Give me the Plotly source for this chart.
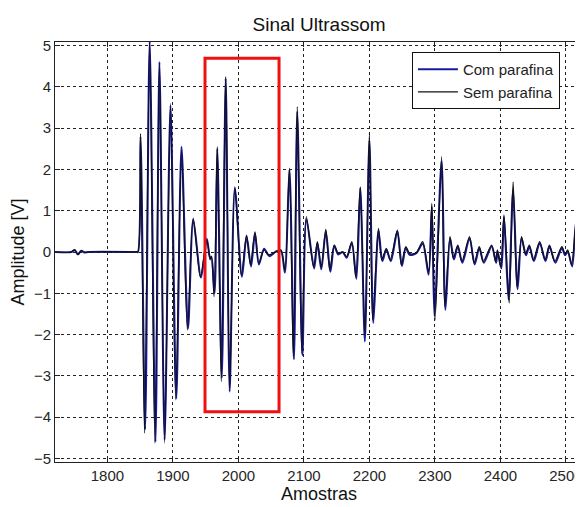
import plotly.graph_objects as go

# --- data (local extrema) ---
sem_x = [1720, 1745, 1750, 1755, 1760, 1765, 1771, 1844, 1846.6, 1850.6, 1856.6, 1864.5, 1872.4,
         1879.4, 1887.3, 1896.3, 1904.2, 1913.1, 1922.1, 1931, 1941.9, 1951.8, 1956.8, 1958.8,
         1962.8, 1967.7, 1973.7, 1980.6, 1986.6, 1994.5, 2004.4, 2012.4, 2018.3, 2025.3, 2031.2,
         2039.2, 2046.1, 2058, 2065, 2070.9, 2077.9, 2083.8, 2089.8, 2096.7, 2103.7, 2114.6,
         2120.5, 2126.5, 2133.4, 2139.4, 2146.3, 2152.3, 2159.2, 2165.2, 2173.1, 2179.1, 2186,
         2193, 2199.9, 2204.9, 2213.8, 2218.8, 2225.7, 2231.7, 2242.6, 2248.6, 2255.5, 2261.5,
         2271.4, 2281.3, 2290.3, 2295.2, 2300.2, 2310.1, 2315.1, 2323, 2328, 2334.9, 2340.9,
         2352.8, 2359.8, 2367.7, 2373.6, 2386.5, 2392.5, 2395.4, 2400.4, 2405.4, 2413.3, 2419.3,
         2425.2, 2432.2, 2438.1, 2444.1, 2450, 2459.9, 2467.9, 2474.8, 2482.8, 2493.7, 2498.6,
         2502.6, 2508.5, 2515.5, 2522.5, 2527.4, 2534.3]
sem_y = [0, 0, 0.05, -0.06, 0.03, -0.01, 0, 0, 0, 2.87, -4.39, 5.1, -4.63, 4.57, -4.63,
         3.6, -3.58, 2.47, -1.89, 0.82, -0.6, 0.29, -0.19, -0.1, -1.08, 2.55, -3.14, 4.25, -3.3,
         1.58, -0.56, 0.41, -0.31, 0.49, -0.27, 0.05, -0.07, 0.01, 0.05, -0.44, 2.03, -2.53, 3.52,
         -2.45, 0.86, -0.36, 0.25, -0.36, 0.55, -0.44, 0.17, -0.03, 0, -0.11, 0.25, -0.6, 1.58,
         -2.0, 2.88, -1.65, 0.57, -0.19, 0.09, -0.19, 0.53, -0.31, 0.13, -0.04, -0.02, 0.25, -0.48,
         1.18, -1.65, 2.31, -1.32, 0.37, -0.15, 0.17, -0.23, 0.37, -0.27, 0.13, -0.23, 0.17, -0.23,
         0.05, -0.36, 0.9, -1.24, 1.7, -0.84, 0.37, -0.05, 0.17, -0.19, 0.25, -0.19, 0.17, -0.23,
         0.13, -0.05, 0.05, -0.31, 0.69, -0.68, 1.05, -0.5]

com_x = [1720, 1745, 1750, 1755, 1760, 1765, 1771, 1844, 1846.6, 1850.6, 1857.6, 1864.5, 1873.4,
         1879.4, 1887.3, 1896.3, 1905.2, 1913.1, 1923.1, 1931, 1942.9, 1951.8, 1956.8, 1958.8,
         1963.7, 1967.7, 1974.7, 1980.6, 1986.6, 1994.5, 2005.4, 2012.4, 2019.3, 2025.3, 2031.2,
         2039.2, 2047.1, 2058, 2065, 2070.9, 2077.9, 2084.8, 2089.8, 2097.7, 2103.7, 2115.6,
         2120.5, 2126.5, 2133.4, 2140.4, 2146.3, 2152.3, 2159.2, 2165.2, 2173.1, 2180.1, 2186,
         2193, 2199.9, 2205.9, 2213.8, 2219.8, 2225.7, 2232.7, 2242.6, 2249.6, 2255.5, 2261.5,
         2271.4, 2281.3, 2290.3, 2295.2, 2299.2, 2310.1, 2316, 2323, 2329, 2334.9, 2341.9,
         2352.8, 2360.7, 2367.7, 2374.6, 2386.5, 2393.5, 2395.4, 2401.4, 2405.4, 2412.3, 2419.3,
         2426.2, 2432.2, 2439.1, 2444.1, 2451, 2459.9, 2468.8, 2474.8, 2483.8, 2493.7, 2498.6,
         2502.6, 2509.5, 2515.5, 2523.4, 2527.4, 2534.3]
com_y = [0, 0, 0.05, -0.06, 0.03, -0.01, 0, 0, 0, 2.8, -4.3, 5.1, -4.6, 4.6, -4.55,
         3.55, -3.55, 2.55, -1.85, 0.78, -0.62, 0.32, -0.15, -0.12, -1.0, 2.5, -3.05, 4.2, -3.38,
         1.55, -0.6, 0.38, -0.35, 0.45, -0.3, 0.08, -0.1, 0.02, 0.03, -0.5, 2.0, -2.6, 3.4,
         -2.5, 0.8, -0.4, 0.22, -0.42, 0.5, -0.48, 0.15, -0.06, 0, -0.14, 0.22, -0.65, 1.55,
         -2.17, 2.7, -1.72, 0.52, -0.22, 0.06, -0.22, 0.5, -0.34, 0.1, -0.07, -0.03, 0.2, -0.55,
         1.1, -1.55, 2.2, -1.4, 0.33, -0.18, 0.14, -0.26, 0.33, -0.3, 0.1, -0.26, 0.14, -0.26,
         0.02, -0.4, 0.85, -1.15, 1.5, -0.9, 0.33, -0.08, 0.14, -0.22, 0.22, -0.22, 0.14, -0.26,
         0.1, -0.08, 0.02, -0.35, 0.75, -0.75, 1.0, -0.5]

series_names = ["Com parafina", "Sem parafina"]
x_ticks = [1800, 1900, 2000, 2100, 2200, 2300, 2400, 2500]
y_ticks = [-5, -4, -3, -2, -1, 0, 1, 2, 3, 4, 5]
x_range = [1720, 2526]
y_range = [-5.085, 5.085]
box_x = [1949, 2062]
box_y = [-3.87, 4.69]

FONT = "Liberation Sans, Arial, sans-serif"

fig = go.Figure()
fig.add_trace(go.Scatter(x=com_x, y=com_y, mode="lines", name=series_names[0],
                         line=dict(color="#1a1aa0", width=2, shape="spline", smoothing=0.8)))
fig.add_trace(go.Scatter(x=sem_x, y=sem_y, mode="lines", name=series_names[1],
                         line=dict(color="#111111", width=1.2, shape="spline", smoothing=0.8)))

fig.add_shape(type="rect", xref="x", yref="y", x0=box_x[0], x1=box_x[1], y0=box_y[0], y1=box_y[1],
              line=dict(color="#ee1111", width=3), fillcolor="rgba(0,0,0,0)", layer="above")

axis_common = dict(showgrid=True, gridcolor="#222222", griddash="dot", gridwidth=1,
                   showline=True, linecolor="#222222", linewidth=1, mirror="allticks",
                   ticks="inside", ticklen=5, tickcolor="#222222", zeroline=False,
                   automargin=False,
                   tickfont=dict(family=FONT, size=15, color="#262626"))

fig.update_xaxes(range=x_range, tickvals=x_ticks, **axis_common,
                 title=dict(text="Amostras", standoff=4,
                            font=dict(family=FONT, size=18, color="#111111")))
fig.update_yaxes(range=y_range, tickvals=y_ticks, **axis_common,
                 title=dict(text="Amplitude [V]", standoff=6,
                            font=dict(family=FONT, size=18, color="#111111")))

# the page body adds an 8px offset, so the figure is 8px smaller than the window
fig.update_layout(
    width=575, height=499,
    margin=dict(l=47, r=0, t=34, b=45, autoexpand=False),
    paper_bgcolor="white", plot_bgcolor="white",
    title=dict(text="Sinal Ultrassom", x=0.541, xanchor="center",
               y=0.968, yanchor="middle",
               font=dict(family=FONT, size=19, color="#111111")),
    legend=dict(x=0.676, y=0.976, xanchor="left", yanchor="top",
                bgcolor="white", bordercolor="#111111", borderwidth=1,
                font=dict(family=FONT, size=15, color="#222222"),
                tracegroupgap=0, itemwidth=40),
    showlegend=True,
)

fig.write_html("out.html")
